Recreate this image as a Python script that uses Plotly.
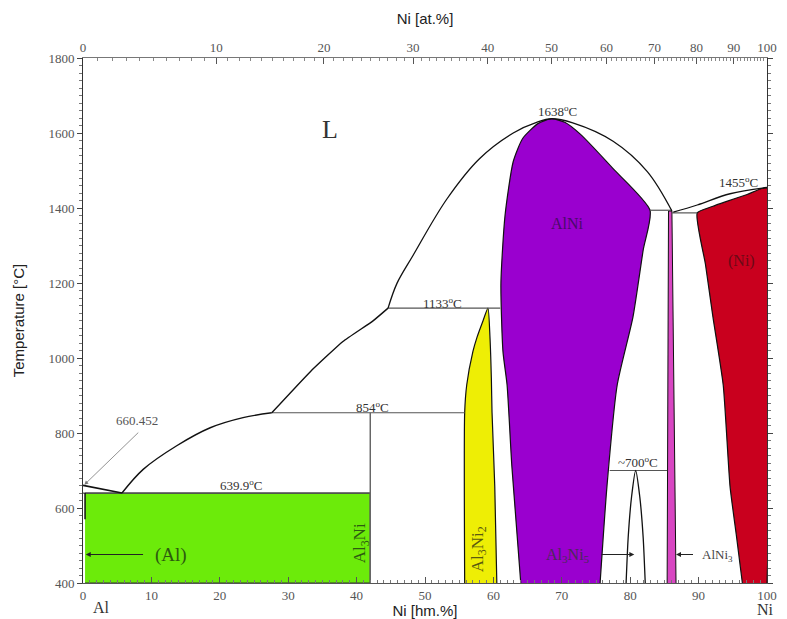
import plotly.graph_objects as go

# ---------------- data (wt.% Ni, temperature °C) ----------------
# liquidus segments
liq_al_x = [0, 5.7]
liq_al_T = [660.452, 639.9]
liq1_x = [5.7, 8.8, 13.7, 18.6, 23.4, 27.6]
liq1_T = [639.9, 703, 766, 814, 841, 854]
liq2_x = [27.6, 33.2, 38.0, 42.4, 44.6]
liq2_T = [854, 963, 1044, 1099, 1133]
liq3_x = [44.6, 45.9, 48.2, 53.2, 58.0, 62.9, 66.4, 68.5, 71.6, 77.5, 82.5, 86.1]
liq3_T = [1133, 1199, 1272, 1424, 1532, 1600, 1629, 1638, 1627, 1578, 1497, 1392]
liq4_x = [86.3, 89.8, 94.6, 100]
liq4_T = [1389, 1408, 1438, 1455]

# phase fields
al_x = [0.3, 42, 42, 0.3]
al_T = [400, 400, 639.9, 639.9]
al3ni2_x = [55.8, 55.8, 56.1, 57.0, 57.6, 58.5, 59.2, 59.5, 59.7, 59.8, 60.2, 60.5]
al3ni2_T = [400, 854, 928, 1017, 1055, 1100, 1133, 1055, 947, 855, 657, 400]
alni_x = [64.0, 62.7, 62.0, 61.4, 61.1, 61.7, 62.9, 64.3, 66.5, 68.5, 70.5, 72.7, 77.5, 82.9, 81.9, 80.4, 78.1, 76.6, 75.6]
alni_T = [400, 711, 928, 1017, 1199, 1380, 1524, 1586, 1625, 1638, 1628, 1597, 1505, 1394, 1288, 1109, 928, 657, 400]
alni3_x = [85.4, 85.6, 86.1, 86.7]
alni3_T = [400, 1392, 1392, 400]
ni_x = [96.4, 95.5, 94.6, 93.6, 92.1, 91.0, 89.8, 92.0, 94.0, 97.1, 100, 100]
ni_T = [400, 530, 657, 928, 1109, 1250, 1387, 1404, 1417, 1436, 1453, 400]
al3ni5_x = [79.4, 79.7, 80.2, 80.8, 81.4, 81.9, 82.2]
al3ni5_T = [400, 520, 630, 700, 630, 520, 400]

# invariant lines
inv_x = [[0, 42], [27.6, 55.8], [44.6, 61.0], [82.9, 86.1], [86.1, 89.8], [77.0, 85.4]]
inv_T = [[639.9, 639.9], [854, 854], [1133, 1133], [1394, 1394], [1387, 1387], [700, 700]]
al3ni_x = [42, 42]
al3ni_T = [400, 854]
alsolv_x = [0.3, 0.3]
alsolv_T = [639.9, 570]

# top axis (at.%) tick labels
at_ticks = [0, 10, 20, 30, 40, 50, 60, 70, 80, 90, 100]
M_NI, M_AL = 58.69, 26.98


def at_to_wt(a):
    return 100 * a * M_NI / (a * M_NI + (100 - a) * M_AL)


fig = go.Figure()

def poly(x, y, color, lw=1.2, lc="#111", smooth=0.0):
    ln = dict(color=lc, width=lw)
    if smooth:
        ln.update(shape="spline", smoothing=smooth)
    fig.add_trace(go.Scatter(x=x, y=y, fill="toself", fillcolor=color, mode="lines",
                             line=ln, hoverinfo="skip", showlegend=False))

def line(x, y, color="#111", w=1.3, smooth=0.0):
    ln = dict(color=color, width=w)
    if smooth:
        ln.update(shape="spline", smoothing=smooth)
    fig.add_trace(go.Scatter(x=x, y=y, mode="lines", line=ln,
                             hoverinfo="skip", showlegend=False))

poly(al_x, al_T, "#6CEB0A", lw=1.2, lc="#333")
poly(al3ni2_x, al3ni2_T, "#EEEE05", lw=1.2, smooth=0.6)
poly(alni_x, alni_T, "#9A00CF", lw=1.2, smooth=0.6)
poly(alni3_x, alni3_T, "#D846C2", lw=1.0)
poly(ni_x, ni_T, "#C9001E", lw=1.2, smooth=0.5)

for xs, ts in zip(inv_x, inv_T):
    line(xs, ts, "#555", 1.2)
line(al3ni_x, al3ni_T, "#666", 1.5)
line(alsolv_x, alsolv_T, "#111", 1.5)
line(al3ni5_x, al3ni5_T, "#111", 1.3, smooth=0.6)
line(liq_al_x, liq_al_T, "#111", 1.6)
line(liq1_x, liq1_T, "#111", 1.4, smooth=1.0)
line(liq2_x, liq2_T, "#111", 1.4, smooth=0.4)
line(liq3_x, liq3_T, "#111", 1.3, smooth=1.0)
line(liq4_x, liq4_T, "#111", 1.3, smooth=1.0)

# invisible trace for top axis
fig.add_trace(go.Scatter(x=[0, 100], y=[400, 400], xaxis="x2", mode="lines",
                         line=dict(width=0), hoverinfo="skip", showlegend=False))

serif = "Liberation Serif"
ann = []

def txt(x, y, s, size=13, color="#333", angle=0):
    ann.append(dict(x=x, y=y, xref="x", yref="y", text=s, showarrow=False,
                    font=dict(family=serif, size=size, color=color), textangle=angle))

deg = "<sup>o</sup>C"
txt(36.1, 1610, "L", 26, "#333")
txt(69.3, 1658, "1638" + deg, 13)
txt(95.8, 1470, "1455" + deg, 13)
txt(52.5, 1148, "1133" + deg, 13)
txt(42.3, 869, "854" + deg, 13)
txt(23.1, 661, "639.9" + deg, 13)
txt(81.2, 724, "~700" + deg, 13)
txt(7.9, 833, "660.452", 13, "#555")
txt(70.9, 1359, "AlNi", 16, "#4a0a6a")
txt(96.3, 1258, "(Ni)", 16, "#6a0a16")
txt(12.9, 476, "(Al)", 19, "#2c5a10")
txt(40.6, 505, "Al<sub>3</sub>Ni", 17, "#2c5a10", -90)
txt(57.9, 490, "Al<sub>3</sub>Ni<sub>2</sub>", 17, "#5a5a10", -90)
txt(70.9, 473, "Al<sub>3</sub>Ni<sub>5</sub>", 16, "#4a2a5a")
txt(92.8, 473, "AlNi<sub>3</sub>", 13, "#444")

def arrow(x0, y0, x1, y1, color="#333", head=2, w=1):
    ann.append(dict(x=x1, y=y1, ax=x0, ay=y0, xref="x", yref="y", axref="x", ayref="y",
                    text="", showarrow=True, arrowhead=head, arrowsize=1, arrowwidth=w,
                    arrowcolor=color))

arrow(8.3, 805, 0.2, 662, "#777", 2, 0.8)
arrow(9.0, 476, 0.4, 476, "#222", 2, 1)
arrow(75.6, 476, 80.6, 476, "#222", 2, 1)
arrow(89.4, 476, 86.7, 476, "#222", 2, 1)

ann.append(dict(x=0.012, y=-0.066, xref="paper", yref="paper", text="Al", showarrow=False,
                font=dict(family=serif, size=16, color="#333")))
ann.append(dict(x=1.013, y=-0.07, xref="paper", yref="paper", text="Ni", showarrow=False,
                font=dict(family=serif, size=16, color="#333")))

tickfont = dict(family=serif, size=13, color="#555")

# page has an 8px body margin, so the figure is sized/offset to compensate
fig.update_layout(
    width=779, height=611,
    margin=dict(l=75, r=20, t=50, b=36, autoexpand=False),
    paper_bgcolor="white", plot_bgcolor="white",
    annotations=ann,
    xaxis=dict(range=[0, 100], tickvals=[0, 10, 20, 30, 40, 50, 60, 70, 80, 90, 100],
               ticks="inside", ticklen=6, tickcolor="#555", showline=True, linecolor="#555",
               linewidth=1, mirror=True, showgrid=False, zeroline=False, tickfont=tickfont,
               automargin=False,
               minor=dict(dtick=1, ticks="inside", ticklen=3, tickcolor="#777"),
               title=dict(text="Ni [hm.%]", font=dict(family="Liberation Sans", size=15, color="#222"),
                          standoff=3)),
    xaxis2=dict(range=[0, 100], overlaying="x", side="top", automargin=False,
                tickvals=[at_to_wt(a) for a in at_ticks], ticktext=[str(a) for a in at_ticks],
                ticks="inside", ticklen=6, tickcolor="#555", showline=True, linecolor="#777",
                showgrid=False, zeroline=False, tickfont=tickfont,
                minor=dict(tickmode="array", tickvals=[at_to_wt(a) for a in range(1, 100)],
                           ticks="inside", ticklen=3, tickcolor="#888"),
                title=dict(text="Ni [at.%]", font=dict(family="Liberation Sans", size=15, color="#222"),
                           standoff=11)),
    yaxis=dict(range=[400, 1800], tickvals=[400, 600, 800, 1000, 1200, 1400, 1600, 1800],
               ticks="outside", ticklen=5, tickcolor="#444", showline=True, linecolor="#333",
               linewidth=1, mirror="ticks", showgrid=False, zeroline=False, tickfont=tickfont,
               automargin=False,
               minor=dict(dtick=20, ticks="outside", ticklen=3, tickcolor="#777"),
               title=dict(text="Temperature [°C]", font=dict(family="Liberation Sans", size=15, color="#222"),
                          standoff=20)),
)

fig.write_html("out.html")
